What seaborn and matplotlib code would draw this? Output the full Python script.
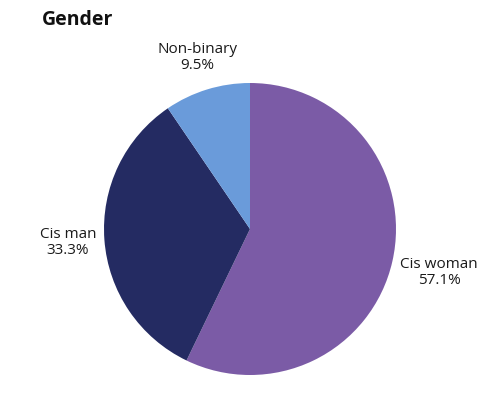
import matplotlib
matplotlib.use("Agg")
import matplotlib.pyplot as plt
import seaborn as sns

categories = ["Cis woman", "Cis man", "Non-binary"]
values = [57.1, 33.3, 9.5]
colors = ["#7B5BA6", "#242B62", "#6A9BDA"]

sns.set_theme(style="white")
plt.rcParams["font.family"] = ["Open Sans", "DejaVu Sans"]

fig = plt.figure(figsize=(4.93, 3.94), dpi=100)
ax = fig.add_axes([0, 0, 1, 1])
R = 146.0
labels = [f"{c}\n{v}%" for c, v in zip(categories, values)]
wedges, texts = ax.pie(values, colors=colors, startangle=90, counterclock=False,
                       labels=labels, labeldistance=1.0,
                       wedgeprops=dict(linewidth=0),
                       textprops=dict(ha="center", va="center", fontsize=11,
                                      color="#1a1a1a", linespacing=1.1))
for t, d in zip(texts, [1.33, 1.25, 1.23]):
    x, y = t.get_position()
    t.set_position((x * d, y * d))
ax.set_aspect("equal")
ax.set_xlim(-250 / R, 243 / R)
ax.set_ylim(-165 / R, 229 / R)
ax.axis("off")
fig.text(42 / 493, 1 - 20 / 394, "Gender", fontsize=14, fontweight="bold",
         ha="left", va="center", color="#111111")
fig.savefig("out.png", dpi=100)
